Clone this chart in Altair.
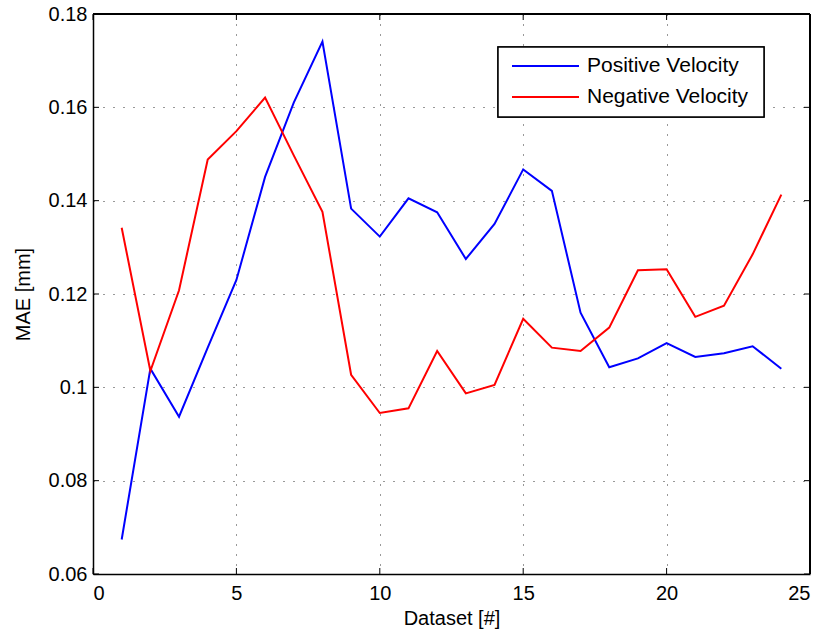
import altair as alt
import pandas as pd

datasets = list(range(1, 25))
positive = [0.0674, 0.1040, 0.0937, 0.1085, 0.1230, 0.1451, 0.1610, 0.1741,
            0.1383, 0.1323, 0.1405, 0.1375, 0.1275, 0.1350, 0.1467, 0.1421,
            0.1160, 0.1043, 0.1062, 0.1095, 0.1065, 0.1073, 0.1088, 0.1040]
negative = [0.1342, 0.1035, 0.1208, 0.1488, 0.1549, 0.1621, 0.1497, 0.1376,
            0.1027, 0.0945, 0.0955, 0.1078, 0.0987, 0.1005, 0.1147, 0.1085,
            0.1078, 0.1128, 0.1251, 0.1253, 0.1151, 0.1175, 0.1285, 0.1413]
series_names = ["Positive Velocity", "Negative Velocity"]
series_colors = ["#0000FF", "#FF0000"]
x_ticks = [0, 5, 10, 15, 20, 25]
y_ticks = [0.06, 0.08, 0.10, 0.12, 0.14, 0.16, 0.18]

rows = []
for i, d in enumerate(datasets):
    rows.append({"Dataset": d, "MAE": positive[i], "Series": series_names[0]})
    rows.append({"Dataset": d, "MAE": negative[i], "Series": series_names[1]})
df = pd.DataFrame(rows)

FONT = "Liberation Sans"
FS = 20
W, H = 717, 560

xscale = alt.Scale(domain=[0, 25], nice=False, zero=False)
yscale = alt.Scale(domain=[0.06, 0.18], nice=False, zero=False)

lines = alt.Chart(df).mark_line(strokeWidth=2, clip=True).encode(
    x=alt.X("Dataset:Q", scale=xscale,
            axis=alt.Axis(values=x_ticks, title="Dataset [#]", grid=True,
                          gridDash=[1, 9], gridColor="#333333", gridOpacity=1,
                          tickSize=0, labelPadding=9, labelFontSize=FS,
                          titleFontSize=FS, titleFontWeight="normal",
                          titlePadding=5, labelFont=FONT, titleFont=FONT,
                          domainColor="black", labelColor="black",
                          titleColor="black", domainWidth=1.5)),
    y=alt.Y("MAE:Q", scale=yscale,
            axis=alt.Axis(values=y_ticks, title="MAE [mm]", grid=True,
                          gridDash=[1, 9], gridColor="#333333", gridOpacity=1,
                          tickSize=0, labelPadding=6, labelFontSize=FS,
                          titleFontSize=FS, titleFontWeight="normal",
                          titlePadding=15, labelFont=FONT, titleFont=FONT,
                          domainColor="black", labelColor="black",
                          titleColor="black", domainWidth=1.5,
                          labelExpr="format(datum.value, '.2~f')")),
    color=alt.Color("Series:N",
                    scale=alt.Scale(domain=series_names, range=series_colors),
                    legend=None),
    detail="Series:N",
)

xt = pd.DataFrame({"v": x_ticks})
yt = pd.DataFrame({"v": y_ticks})

top_edge = alt.Chart(xt).mark_rule(color="black", strokeWidth=1.5).encode(
    x=alt.value(0), x2=alt.value(W), y=alt.value(0))
right_edge = alt.Chart(xt).mark_rule(color="black", strokeWidth=1.5).encode(
    y=alt.value(0), y2=alt.value(H), x=alt.value(W))

TL = 6
xticks_bottom = alt.Chart(xt).mark_rule(color="black", strokeWidth=1).encode(
    x=alt.X("v:Q", scale=xscale), y=alt.value(H), y2=alt.value(H - TL))
xticks_top = alt.Chart(xt).mark_rule(color="black", strokeWidth=1).encode(
    x=alt.X("v:Q", scale=xscale), y=alt.value(0), y2=alt.value(TL))
yticks_left = alt.Chart(yt).mark_rule(color="black", strokeWidth=1).encode(
    y=alt.Y("v:Q", scale=yscale), x=alt.value(0), x2=alt.value(TL))
yticks_right = alt.Chart(yt).mark_rule(color="black", strokeWidth=1).encode(
    y=alt.Y("v:Q", scale=yscale), x=alt.value(W), x2=alt.value(W - TL))

# legend box drawn by hand (MATLAB style)
leg_df = pd.DataFrame({"Series": series_names})
legend_box = alt.Chart(leg_df).mark_rect(fill="white", stroke="black",
                                         strokeWidth=1.5).encode(
    x=alt.value(405), x2=alt.value(671), y=alt.value(33), y2=alt.value(103))
legend_layers = [legend_box]
row_y = [52, 83]
for name, col, yy in zip(series_names, series_colors, row_y):
    one = pd.DataFrame({"Series": [name]})
    legend_layers.append(
        alt.Chart(one).mark_rule(color=col, strokeWidth=2).encode(
            x=alt.value(419), x2=alt.value(486), y=alt.value(yy)))
    legend_layers.append(
        alt.Chart(one).mark_text(align="left", baseline="middle", font=FONT,
                                 fontSize=21, color="black").encode(
            x=alt.value(494), y=alt.value(yy), text="Series:N"))

chart = alt.layer(lines, xticks_bottom, xticks_top, yticks_left, yticks_right,
                  top_edge, right_edge, *legend_layers).properties(
    width=W, height=H,
    autosize=alt.AutoSizeParams(type="none"),
    padding={"left": 93, "top": 14, "right": 13, "bottom": 61},
    background="white",
).configure_view(stroke=None)

chart.save("out.html", embed_options={"renderer": "svg", "actions": False})
